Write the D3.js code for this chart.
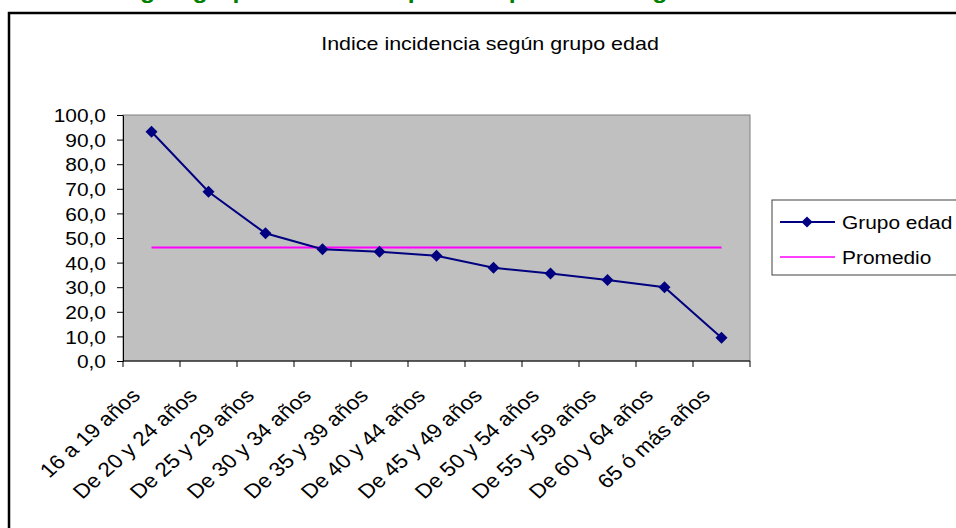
<!DOCTYPE html>
<html>
<head>
<meta charset="utf-8">
<script src="https://cdn.jsdelivr.net/npm/d3@7"></script>
<style>
  body { margin: 0; background: #fff; }
  svg { display: block; font-family: Arial, "Liberation Sans", sans-serif; }
</style>
</head>
<body>
<svg width="956" height="528"></svg>
<script>
// the data
var categories = ["16 a 19 años", "De 20 y 24 años", "De 25 y 29 años", "De 30 y 34 años",
  "De 35 y 39 años", "De 40 y 44 años", "De 45 y 49 años", "De 50 y 54 años",
  "De 55 y 59 años", "De 60 y 64 años", "65 ó más años"];
var grupoEdad = [93.2, 68.8, 51.9, 45.4, 44.4, 42.8, 37.9, 35.6, 32.9, 30.0, 9.5];
var promedio = categories.map(function() { return 46.1; });
var yTicks = [0, 10, 20, 30, 40, 50, 60, 70, 80, 90, 100];
var seriesNames = ["Grupo edad", "Promedio"];

var svg = d3.select("svg");
var stretch = 1.13;   // the original picture is a bit wider than tall
var fontSize = "18.5px";

// page heading, cut off by the top of the picture
var heading = svg.append("text")
    .attr("font-size", "22px")
    .attr("font-weight", "bold")
    .attr("fill", "#008000")
    .text("Índice de incidencia según grupo de edad respecto al promedio regional");
// line up the "g" of "según" with the one in the picture
var gPos = heading.node().getStartPositionOfChar(heading.text().indexOf("gún")).x;
heading.attr("transform", "translate(" + (140 - gPos * stretch) + ",-2) scale(" + stretch + ",1)");

// chart frame
svg.append("rect")
    .attr("x", 9).attr("y", 13)
    .attr("width", 1000).attr("height", 600)
    .attr("fill", "#fff")
    .attr("stroke", "#000")
    .attr("stroke-width", 2.5);

svg.append("text")
    .attr("transform", "translate(490,50) scale(" + stretch + ",1)")
    .attr("text-anchor", "middle")
    .attr("font-size", "19px")
    .text("Indice incidencia según grupo edad");

// scales
var x = d3.scaleBand().domain(categories).range([123, 750]);
var y = d3.scaleLinear().domain([0, 100]).range([361, 115]);
function cx(d) { return x(d) + x.bandwidth() / 2; }

// plot area
svg.append("rect")
    .attr("x", x.range()[0]).attr("y", y(100))
    .attr("width", x.range()[1] - x.range()[0])
    .attr("height", y(0) - y(100))
    .attr("fill", "#C0C0C0")
    .attr("stroke", "#808080")
    .attr("stroke-width", 1);

// y axis
var yAxis = svg.append("g")
    .attr("transform", "translate(" + x.range()[0] + ",0)")
    .call(d3.axisLeft(y).tickValues(yTicks).tickSize(6).tickSizeOuter(0)
      .tickFormat(function(d) { return d.toFixed(1).replace(".", ","); }));
yAxis.select(".domain").attr("stroke", "#000");
yAxis.selectAll(".tick line").attr("stroke", "#000");
yAxis.selectAll(".tick text")
    .attr("font-size", fontSize)
    .attr("font-family", "Arial, 'Liberation Sans', sans-serif")
    .attr("fill", "#000")
    .attr("x", 0).attr("dy", "0.36em")
    .attr("transform", "translate(-17,0) scale(" + stretch + ",1)");

// x axis: ticks between categories
var bounds = categories.map(function(c) { return x(c); }).concat([x.range()[1]]);
var xAxis = svg.append("g");
xAxis.append("line")
    .attr("x1", x.range()[0]).attr("x2", x.range()[1])
    .attr("y1", y(0)).attr("y2", y(0))
    .attr("stroke", "#000");
xAxis.selectAll(".xtick")
    .data(bounds)
    .enter().append("line")
    .attr("x1", function(d) { return d; }).attr("x2", function(d) { return d; })
    .attr("y1", y(0)).attr("y2", y(0) + 6)
    .attr("stroke", "#000");
xAxis.selectAll(".xlabel")
    .data(categories)
    .enter().append("text")
    .attr("transform", function(d) {
      return "translate(" + (cx(d) - 10) + "," + (y(0) + 36) + ") scale(" + stretch + ",1) rotate(-45)";
    })
    .attr("text-anchor", "end")
    .attr("font-size", "20px")
    .text(function(d) { return d; });

// lines
var line = d3.line()
    .x(function(d, i) { return cx(categories[i]); })
    .y(function(d) { return y(d); });

svg.append("path")
    .datum(promedio)
    .attr("d", line)
    .attr("fill", "none")
    .attr("stroke", "#FF00FF")
    .attr("stroke-width", 2);

svg.append("path")
    .datum(grupoEdad)
    .attr("d", line)
    .attr("fill", "none")
    .attr("stroke", "#000080")
    .attr("stroke-width", 2);

var diamond = d3.symbol().type(d3.symbolSquare).size(72);
svg.selectAll(".marker")
    .data(grupoEdad)
    .enter().append("path")
    .attr("d", diamond)
    .attr("transform", function(d, i) {
      return "translate(" + cx(categories[i]) + "," + y(d) + ") rotate(45)";
    })
    .attr("fill", "#000080");

// legend
var legend = svg.append("g").attr("transform", "translate(772,200)");
legend.append("rect")
    .attr("width", 200).attr("height", 75)
    .attr("fill", "#fff")
    .attr("stroke", "#404040");
var legendColors = ["#000080", "#FF00FF"];
seriesNames.forEach(function(name, i) {
  var ly = 22 + i * 35;
  legend.append("line")
      .attr("x1", 8).attr("x2", 63)
      .attr("y1", ly).attr("y2", ly)
      .attr("stroke", legendColors[i])
      .attr("stroke-width", i == 0 ? 2 : 1.5);
  if (i == 0) {
    legend.append("path")
        .attr("d", d3.symbol().type(d3.symbolSquare).size(62))
        .attr("transform", "translate(35," + ly + ") rotate(45)")
        .attr("fill", "#000080");
  }
  legend.append("text")
      .attr("transform", "translate(70," + ly + ") scale(" + stretch + ",1)")
      .attr("dy", "0.36em")
      .attr("font-size", fontSize)
      .text(name);
});
</script>
</body>
</html>
